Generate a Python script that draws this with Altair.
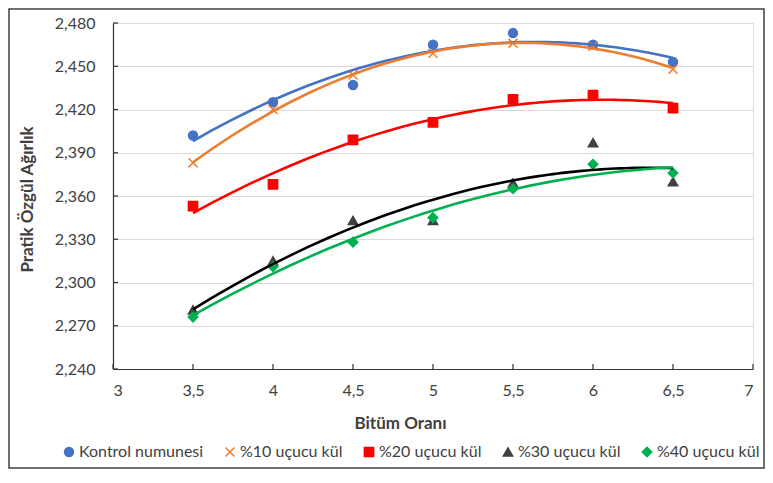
import altair as alt
import pandas as pd

# ---- data ----
bitum = [3.5, 4.0, 4.5, 5.0, 5.5, 6.0, 6.5]
series_names = ["Kontrol numunesi", "%10 uçucu kül", "%20 uçucu kül", "%30 uçucu kül", "%40 uçucu kül"]
kontrol = [2.402, 2.425, 2.437, 2.465, 2.473, 2.465, 2.453]
kul10 = [2.383, 2.420, 2.444, 2.459, 2.466, 2.464, 2.448]
kul20 = [2.353, 2.368, 2.399, 2.411, 2.427, 2.430, 2.421]
kul30 = [2.281, 2.315, 2.343, 2.343, 2.369, 2.397, 2.370]
kul40 = [2.276, 2.311, 2.328, 2.345, 2.365, 2.382, 2.376]
x_ticks = [3, 3.5, 4, 4.5, 5, 5.5, 6, 6.5, 7]
y_ticks = [2.24, 2.27, 2.30, 2.33, 2.36, 2.39, 2.42, 2.45, 2.48]

# ---- styles ----
point_colors = ["#4472C4", "#ED7D31", "#FF0000", "#404040", "#00B050"]
line_colors = ["#4472C4", "#ED7D31", "#FF0000", "#000000", "#00B050"]
shapes = ["circle", "M-1,-1L1,1M-1,1L1,-1", "square", "triangle-up", "diamond"]
sizes = [80, 90, 95, 50, 45]
FONT = "Lato"
TXT = "#404040"
W, H = 640, 346

rows = []
for name, vals in zip(series_names, [kontrol, kul10, kul20, kul30, kul40]):
    for xv, yv in zip(bitum, vals):
        rows.append({"bitum": xv, "value": yv, "series": name})
df = pd.DataFrame(rows)

xscale = alt.Scale(domain=[3, 7], nice=False, zero=False)
yscale = alt.Scale(domain=[2.24, 2.48], nice=False, zero=False)

x_enc = alt.X(
    "bitum:Q", scale=xscale,
    axis=alt.Axis(
        values=x_ticks, title="Bitüm Oranı", grid=False, ticks=False, tickSize=0,
        labelExpr="replace(toString(datum.value), '.', ',')",
        labelFont=FONT, labelFontSize=16, labelColor=TXT, labelPadding=13,
        domainColor="#333333", domainWidth=1.2,
        titleFont=FONT, titleFontSize=17, titleFontWeight="bold", titleColor=TXT,
        titleX=287, titleY=54, titleBaseline="middle", titleAlign="center",
    ),
)
y_enc = alt.Y(
    "value:Q", scale=yscale,
    axis=alt.Axis(
        values=y_ticks, title="Pratik Özgül Ağırlık", grid=True, gridColor="#D9D9D9",
        gridWidth=1.2, ticks=False, tickSize=0,
        labelExpr="replace(format(datum.value, '.3f'), '.', ',')",
        labelFont=FONT, labelFontSize=16, labelColor=TXT, labelPadding=18,
        domainColor="#333333", domainWidth=1.2,
        titleFont=FONT, titleFontSize=17, titleFontWeight="bold", titleColor=TXT,
        titleX=-86, titleY=176, titleBaseline="middle", titleAlign="center", titleAngle=270,
    ),
)

legend = alt.Legend(
    orient="none", legendX=-52, legendY=421, direction="horizontal", columns=5,
    labelFont=FONT, labelFontSize=16, labelColor=TXT, labelOffset=2,
    columnPadding=18, padding=0, symbolStrokeWidth=1.5,
)

base = alt.Chart(df)

points = base.mark_point(filled=True, strokeWidth=1.5, opacity=1).encode(
    x=x_enc,
    y=y_enc,
    fill=alt.Fill("series:N", scale=alt.Scale(domain=series_names, range=point_colors), legend=legend, title=None),
    stroke=alt.Stroke("series:N", scale=alt.Scale(domain=series_names, range=point_colors), legend=legend, title=None),
    shape=alt.Shape("series:N", scale=alt.Scale(domain=series_names, range=shapes), legend=legend, title=None),
    size=alt.Size("series:N", scale=alt.Scale(domain=series_names, range=sizes), legend=legend, title=None),
)

lines = base.transform_regression(
    "bitum", "value", method="poly", order=2, groupby=["series"]
).mark_line(strokeWidth=2.6).encode(
    x=alt.X("bitum:Q", scale=xscale),
    y=alt.Y("value:Q", scale=yscale),
    color=alt.Color("series:N", scale=alt.Scale(domain=series_names, range=line_colors), legend=None),
    detail="series:N",
)

xt = alt.Chart(pd.DataFrame({"t": x_ticks})).mark_rule(color="#333333", strokeWidth=1.2).encode(
    x=alt.X("t:Q", scale=xscale), y=alt.value(H), y2=alt.value(H - 5)
)
yt = alt.Chart(pd.DataFrame({"t": y_ticks})).mark_rule(color="#333333", strokeWidth=1.2).encode(
    y=alt.Y("t:Q", scale=yscale), x=alt.value(0), x2=alt.value(5)
)

frame = alt.Chart(pd.DataFrame({"a": [0]})).mark_rect(
    fillOpacity=0, stroke="#404040", strokeWidth=1.5
).encode(
    x=alt.value(-104), x2=alt.value(W + 11), y=alt.value(-14), y2=alt.value(H + 99)
)

chart = alt.layer(frame, xt, yt, points, lines).resolve_scale(
    color="independent"
).properties(
    width=W, height=H,
    autosize=alt.AutoSizeParams(type="none"),
    padding={"left": 105, "top": 15, "right": 12, "bottom": 100},
).configure_view(stroke=None).configure(background="white")

chart.save("out.html", embed_options={"renderer": "svg", "actions": False})
